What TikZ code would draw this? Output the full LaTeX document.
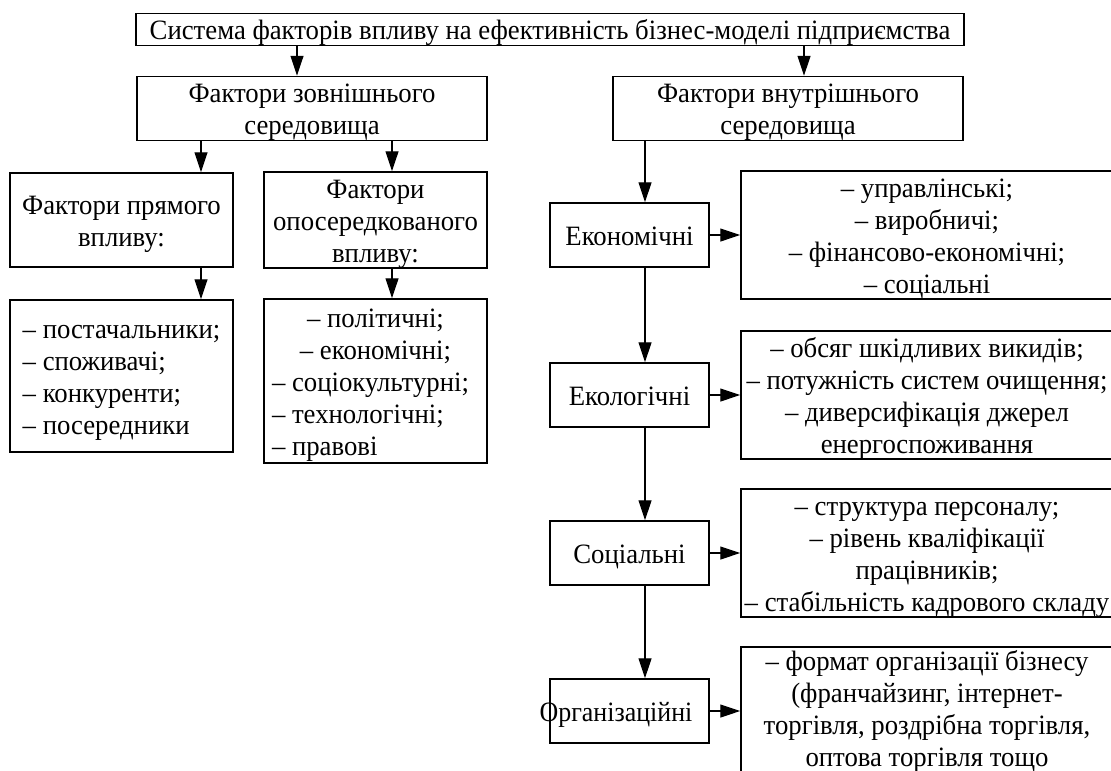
\documentclass[tikz,border=0pt]{standalone}
\usepackage{fontspec}
\usepackage{graphicx}
\setmainfont{Liberation Serif}[FakeStretch=0.955]
\usetikzlibrary{arrows.meta}
\newcommand\boxtc[2][-4pt]{\raisebox{#1}[\height][\depth]{\begin{tabular}{@{}c@{}}#2\end{tabular}}}
\newcommand\boxtl[2][-4pt]{\raisebox{#1}[\height][\depth]{\begin{tabular}{@{}l@{}}#2\end{tabular}}}
\begin{document}
\begin{tikzpicture}[x=1pt,y=-1pt,
  box/.style={draw,line width=1.5pt,inner sep=0pt,
    font=\fontsize{28}{32}\selectfont},
  arr/.style={line width=1.2pt,-{Triangle[length=20pt,width=13pt]}}]
\path[use as bounding box] (0,0) rectangle (1111,771);
\clip (0,0) rectangle (1111,771);
% coordinates for arrow x positions
\coordinate (xa) at (297,0);
\coordinate (xb) at (804,0);
\coordinate (xc) at (201,0);
\coordinate (xd) at (392,0);
\coordinate (xe) at (645,0);
% boxes
\node[box,minimum width=828pt,minimum height=31pt] (title) at (550,29.5)
  {\boxtc{Система факторів впливу на ефективність бізнес-моделі підприємства}};
\node[box,minimum width=350pt,minimum height=63pt] (ext) at (312,108.5)
  {\boxtc{Фактори зовнішнього\\середовища}};
\node[box,minimum width=350pt,minimum height=63pt] (int) at (788,108.5)
  {\boxtc{Фактори внутрішнього\\середовища}};
\node[box,minimum width=223pt,minimum height=94pt] (pr) at (121.5,220)
  {\boxtc{Фактори прямого\\впливу:}};
\node[box,minimum width=223pt,minimum height=94pt] (op) at (375.5,220)
  {\boxtc{Фактори\\опосередкованого\\впливу:}};
\node[box,minimum width=223pt,minimum height=152pt] (prl) at (121.5,376)
  {\boxtl{–~постачальники;\\–~споживачі;\\–~конкуренти;\\–~посередники}};
\node[box,minimum width=223pt,minimum height=164pt] (opl) at (375.5,381)
  {\boxtl{\multicolumn{1}{@{}c@{}}{\makebox[207pt][c]{–~політичні;}}\\\multicolumn{1}{@{}c@{}}{–~економічні;}\\–~соціокультурні;\\–~технологічні;\\–~правові}};
\node[box,minimum width=159pt,minimum height=64pt] (ec) at (629.5,235) {\boxtc{Економічні}};
\node[box,minimum width=159pt,minimum height=64pt] (eco) at (629.5,395) {\boxtc{Екологічні}};
\node[box,minimum width=159pt,minimum height=64pt] (soc) at (629.5,553) {\boxtc{Соціальні}};
\node[box,minimum width=159pt,minimum height=64pt] (org) at (629.5,711)
  {\boxtc{\makebox[140pt][c]{\kern-27pt\scalebox{0.97}[1]{Організаційні}}}};
\node[box,minimum width=372pt,minimum height=126pt] (ecl) at (927,235)
  {\boxtc{–~управлінські;\\–~виробничі;\\–~фінансово-економічні;\\–~соціальні}};
\node[box,minimum width=372pt,minimum height=127pt] (ecol) at (927,395)
  {\boxtc{–~обсяг шкідливих викидів;\\–~потужність систем очищення;\\–~диверсифікація джерел\\енергоспоживання}};
\node[box,minimum width=372pt,minimum height=126pt] (socl) at (927,553)
  {\boxtc{–~структура персоналу;\\–~рівень кваліфікації\\працівників;\\–~стабільність кадрового складу}};
\node[box,minimum width=372pt,minimum height=126pt] (orgl) at (927,711)
  {\boxtc[-1pt]{–~формат організації бізнесу\\(франчайзинг, інтернет-\\торгівля, роздрібна торгівля,\\оптова торгівля тощо}};
% connectors
\draw[arr] (title.south -| xa) -- (ext.north -| xa);
\draw[arr] (title.south -| xb) -- (int.north -| xb);
\draw[arr] (ext.south -| xc) -- (pr.north -| xc);
\draw[arr] (ext.south -| xd) -- (op.north -| xd);
\draw[arr] (pr.south -| xc) -- (prl.north -| xc);
\draw[arr] (op.south -| xd) -- (opl.north -| xd);
\draw[arr] (int.south -| xe) -- (ec.north -| xe);
\draw[arr] (ec.south -| xe) -- (eco.north -| xe);
\draw[arr] (eco.south -| xe) -- (soc.north -| xe);
\draw[arr] (soc.south -| xe) -- (org.north -| xe);
\draw[arr] (ec.east) -- (ecl.west);
\draw[arr] (eco.east) -- (ecol.west);
\draw[arr] (soc.east) -- (socl.west);
\draw[arr] (org.east) -- (orgl.west);
\end{tikzpicture}
\end{document}
